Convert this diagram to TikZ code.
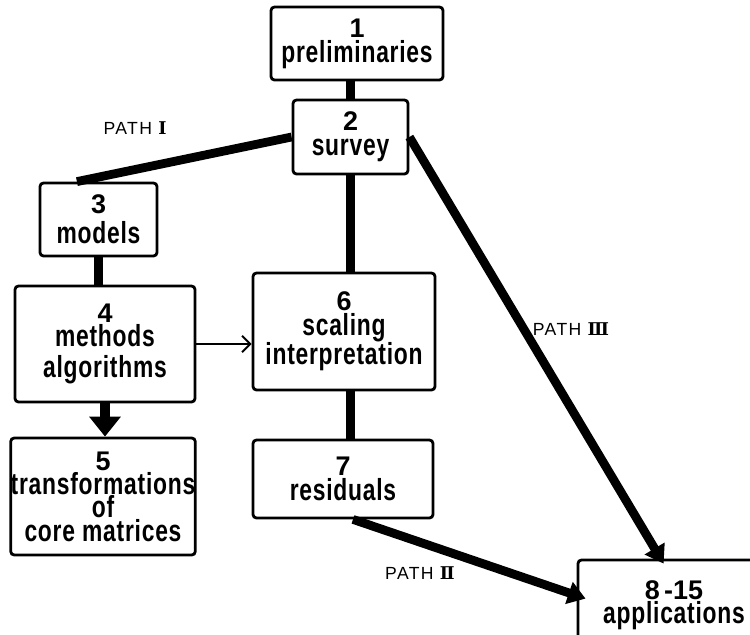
\documentclass[tikz,border=0pt]{standalone}
\usepackage{fontspec}
\usepackage{tikz}
\usetikzlibrary{positioning}
\usetikzlibrary{arrows.meta}
\usetikzlibrary{calc}
\setmainfont{Liberation Sans}
\newfontfamily\numfont{Liberation Sans Bold}
\newfontfamily\wordfont[FakeStretch=0.75,LetterSpace=2.5]{Liberation Sans Bold}
\newfontfamily\romfont{DejaVu Serif Bold}
\newcommand{\numtxt}[1]{{\numfont\fontsize{23}{21}\selectfont #1}}
\newcommand{\wordtxt}[1]{{\wordfont\fontsize{26}{21}\selectfont #1}}

\begin{document}
\begin{tikzpicture}[
    x=0.03cm, y=-0.03cm,
    box/.style={rectangle, draw, line width=2.4pt, rounded corners=3pt, align=center, inner sep=0pt, font=\fontsize{20}{21.5}\selectfont},
    link/.style={line width=8.5pt},
    bigarrow/.style={line width=9pt, -{Triangle[width=26pt,length=17pt]}},
    pathline/.style={line width=7.5pt},
    patharrow/.style={line width=7.5pt, -{Triangle[width=19pt,length=15pt]}},
    thinarrow/.style={line width=1.6pt, -{Straight Barb[length=7pt,width=14pt]}},
    pathlabel/.style={font=\fontsize{15}{15}\selectfont\addfontfeature{LetterSpace=8}}
]
\clip (0,0) rectangle (750,634);

% Boxes
\node[box, minimum width=5.16cm, minimum height=2.19cm] (n1) at (357,43.5) {\numtxt{1}\\\wordtxt{preliminaries}};
\node[box, minimum width=3.45cm, minimum height=2.22cm] (n2) at (350.5,137) {\numtxt{2}\\\wordtxt{survey}};
\node[box, minimum width=3.51cm, minimum height=2.19cm] (n3) at (98.5,219.5) {\numtxt{3}\\[4pt]\wordtxt{models}};
\node[box, minimum width=5.40cm, minimum height=3.48cm] (n4) at (105,344) {\numtxt{4}\\[-1pt]\wordtxt{methods}\\[5pt]\wordtxt{algorithms}};
\node[box, minimum width=5.46cm, minimum height=3.51cm] (n6) at (344,331.5) {\numtxt{6}\\[-0.5pt]\wordtxt{scaling}\\\wordtxt{interpretation}};
\node[box, minimum width=5.40cm, minimum height=2.34cm] (n7) at (343,479) {\numtxt{7}\\\wordtxt{residuals}};
\node[box, minimum width=5.40cm, minimum height=3.51cm] (n5) at (103,496.5) {\numtxt{5}\\[-1pt]\wordtxt{transformations}\\[-2pt]\wordtxt{of}\\[-1pt]\wordtxt{core matrices}};
\node[box, minimum width=5.76cm, minimum height=2.70cm] (n8) at (674,605) {\numtxt{8\,-15}\\[-1pt]\wordtxt{applications}};

% Vertical links
\draw[link] (n2.north) -- (n2.north |- n1.south);
\draw[link] (n2.south) -- (n2.south |- n6.north);
\draw[link] (n2.south |- n6.south) -- (n2.south |- n7.north);
\draw[link] (n3.south) -- (n3.south |- n4.north);
\draw[bigarrow] (n4.south) -- (n4.south |- n5.north);
\draw[thinarrow] (n4.east) -- (n4.east -| n6.west);

% Paths
\draw[pathline] (n2.west) -- ($(n3.north west)!0.32!(n3.north east)$);
\draw[patharrow] (n2.east) -- ($(n8.north west)+(87,5)$);
\draw[patharrow] ($(n7.south)+(10,0)$) -- ($(n8.north west)+(9,40)$);

% Labels
\node[pathlabel] (lab1) at (135,128) {PATH {\romfont Ⅰ}};
\node[pathlabel] (lab2) at (420,573) {PATH {\romfont Ⅱ}};
\node[pathlabel] (lab3) at (571,329) {PATH {\romfont Ⅲ}};

\end{tikzpicture}
\end{document}
